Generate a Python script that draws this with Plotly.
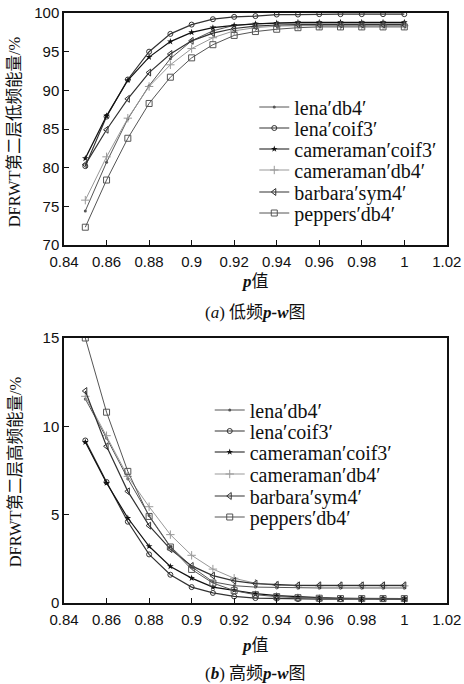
import plotly.graph_objects as go

p = [0.85, 0.86, 0.87, 0.88, 0.89, 0.90, 0.91, 0.92, 0.93, 0.94, 0.95, 0.96, 0.97, 0.98, 0.99, 1.00]

names = ["lena′db4′", "lena′coif3′", "cameraman′coif3′", "cameraman′db4′", "barbara′sym4′", "peppers′db4′"]

low_lena_db4 = [74.4, 80.7, 86.3, 90.6, 94.1, 96.4, 97.7, 98.4, 98.6, 98.7, 98.7, 98.7, 98.7, 98.7, 98.7, 98.7]
low_lena_coif3 = [80.2, 86.6, 91.4, 95.0, 97.3, 98.5, 99.2, 99.5, 99.6, 99.8, 99.8, 99.85, 99.85, 99.85, 99.85, 99.85]
low_cam_coif3 = [81.2, 86.7, 91.3, 94.3, 96.3, 97.5, 98.1, 98.4, 98.6, 98.7, 98.8, 98.8, 98.8, 98.8, 98.8, 98.8]
low_cam_db4 = [75.8, 81.4, 86.4, 90.5, 93.3, 95.4, 96.8, 97.7, 98.1, 98.3, 98.35, 98.35, 98.35, 98.35, 98.35, 98.35]
low_barbara = [80.4, 84.9, 88.9, 92.3, 94.7, 96.4, 97.4, 98.0, 98.3, 98.45, 98.5, 98.5, 98.5, 98.5, 98.5, 98.5]
low_peppers = [72.3, 78.4, 83.8, 88.3, 91.7, 94.2, 95.9, 97.1, 97.6, 97.9, 98.1, 98.2, 98.2, 98.2, 98.2, 98.2]

high_lena_db4 = [11.55, 9.34, 7.04, 4.95, 3.2, 2.05, 1.2, 0.98, 0.9, 0.87, 0.85, 0.85, 0.85, 0.85, 0.85, 0.85]
high_lena_coif3 = [9.2, 6.85, 4.6, 2.75, 1.6, 0.9, 0.57, 0.37, 0.28, 0.25, 0.22, 0.22, 0.22, 0.22, 0.22, 0.22]
high_cam_coif3 = [9.11, 6.79, 4.81, 3.21, 2.07, 1.41, 0.9, 0.72, 0.53, 0.42, 0.35, 0.3, 0.27, 0.25, 0.25, 0.25]
high_cam_db4 = [11.7, 9.47, 7.17, 5.45, 3.87, 2.7, 1.92, 1.4, 1.12, 1.0, 0.97, 0.97, 0.97, 0.97, 0.97, 0.97]
high_barbara = [12.0, 8.87, 6.32, 4.38, 3.05, 2.1, 1.55, 1.25, 1.1, 1.03, 1.0, 1.0, 1.0, 1.0, 1.0, 1.0]
high_peppers = [15.0, 10.8, 7.45, 4.9, 3.17, 1.9, 1.13, 0.7, 0.47, 0.36, 0.3, 0.27, 0.25, 0.25, 0.25, 0.25]

x_ticks = [0.84, 0.86, 0.88, 0.9, 0.92, 0.94, 0.96, 0.98, 1, 1.02]
x_ticktext = ["0.84", "0.86", "0.88", "0.9", "0.92", "0.94", "0.96", "0.98", "1", "1.02"]
low_ticks = [70, 75, 80, 85, 90, 95, 100]
high_ticks = [0, 5, 10, 15]

styles = [
    dict(color="#555555", width=1, symbol="circle", msize=3, mline=0),
    dict(color="#333333", width=1.2, symbol="circle-open", msize=5, mline=1),
    dict(color="#111111", width=1.2, symbol="star", msize=5, mline=0),
    dict(color="#999999", width=1, symbol="cross-thin-open", msize=6, mline=1),
    dict(color="#333333", width=1.2, symbol="triangle-left-open", msize=6, mline=1),
    dict(color="#555555", width=1, symbol="square-open", msize=6, mline=1),
]

low_series = [low_lena_db4, low_lena_coif3, low_cam_coif3, low_cam_db4, low_barbara, low_peppers]
high_series = [high_lena_db4, high_lena_coif3, high_cam_coif3, high_cam_db4, high_barbara, high_peppers]

# legend entry vertical centres (page pixels)
top_leg_y = [107, 128, 149, 170, 192, 213]
bot_leg_y = [410, 431, 452, 474, 496, 517]

fig = go.Figure()
leg_layout = {}
legfont = dict(family="Liberation Serif, Times New Roman, serif", size=20, color="#111111")
k = 0
for panel, series, legx, legys, xa, ya in [
        (0, low_series, 0.548, top_leg_y, "x", "y"),
        (1, high_series, 0.452, bot_leg_y, "x2", "y2")]:
    for nm, ys, st, ly in zip(names, series, styles, legys):
        k += 1
        lname = "legend" if k == 1 else f"legend{k}"
        fig.add_trace(go.Scatter(
            x=p, y=ys, name=nm, mode="lines+markers", xaxis=xa, yaxis=ya, legend=lname,
            line=dict(color=st["color"], width=st["width"]),
            marker=dict(symbol=st["symbol"], size=st["msize"], color=st["color"],
                        line=dict(color=st["color"], width=st["mline"]))))
        leg_layout[lname] = dict(x=legx, y=1 - ly / 684, xanchor="left", yanchor="middle",
                                 font=legfont, bgcolor="rgba(0,0,0,0)", itemwidth=30,
                                 borderwidth=0)

tickfont = dict(family="Liberation Sans, Arial", size=15, color="#111111")
axis_common = dict(showline=True, linecolor="#111111", linewidth=1.5, mirror=True,
                   ticks="inside", ticklen=5, tickcolor="#111111", showgrid=False,
                   zeroline=False, tickfont=tickfont, automargin=False)

serif_cjk = "Liberation Serif, Noto Sans CJK SC, serif"

fig.update_layout(
    width=464, height=684, margin=dict(l=0, r=0, t=0, b=0, autoexpand=False),
    paper_bgcolor="white", plot_bgcolor="white", showlegend=True,
    xaxis=dict(domain=[0.138, 0.963], range=[0.84, 1.02], tickvals=x_ticks, ticktext=x_ticktext,
               anchor="y", ticklabelstandoff=2, **axis_common),
    yaxis=dict(domain=[1 - 245 / 684, 1 - 13 / 684], range=[70, 100], tickvals=low_ticks, anchor="x", **axis_common),
    xaxis2=dict(domain=[0.138, 0.963], range=[0.84, 1.02], tickvals=x_ticks, ticktext=x_ticktext,
                anchor="y2", ticklabelstandoff=2, **axis_common),
    yaxis2=dict(domain=[1 - 603 / 684, 1 - 338 / 684], range=[0, 15], tickvals=high_ticks, anchor="x2", **axis_common),
    **leg_layout,
)

ann = []
common = dict(xref="paper", yref="paper", showarrow=False, xanchor="center", yanchor="middle")
ann.append(dict(text="DFRWT第二层低频能量/%", x=0.033, y=1 - 132 / 684, textangle=-90,
                font=dict(family=serif_cjk, size=16.5, color="#111111"), **common))
ann.append(dict(text="DFRWT第二层高频能量/%", x=0.033, y=1 - 472 / 684, textangle=-90,
                font=dict(family=serif_cjk, size=16.5, color="#111111"), **common))
ann.append(dict(text="<b><i>p</i></b>值", x=0.55, y=1 - 282 / 684,
                font=dict(family=serif_cjk, size=17, color="#111111"), **common))
ann.append(dict(text="(<i>a</i>) 低频<b><i>p-w</i></b>图", x=0.55, y=1 - 312 / 684,
                font=dict(family=serif_cjk, size=17, color="#111111"), **common))
ann.append(dict(text="<b><i>p</i></b>值", x=0.55, y=1 - 645 / 684,
                font=dict(family=serif_cjk, size=17, color="#111111"), **common))
ann.append(dict(text="(<b><i>b</i></b>) 高频<b><i>p-w</i></b>图", x=0.55, y=1 - 673 / 684,
                font=dict(family=serif_cjk, size=17, color="#111111"), **common))
fig.update_layout(annotations=ann)

fig.write_html("out.html")
